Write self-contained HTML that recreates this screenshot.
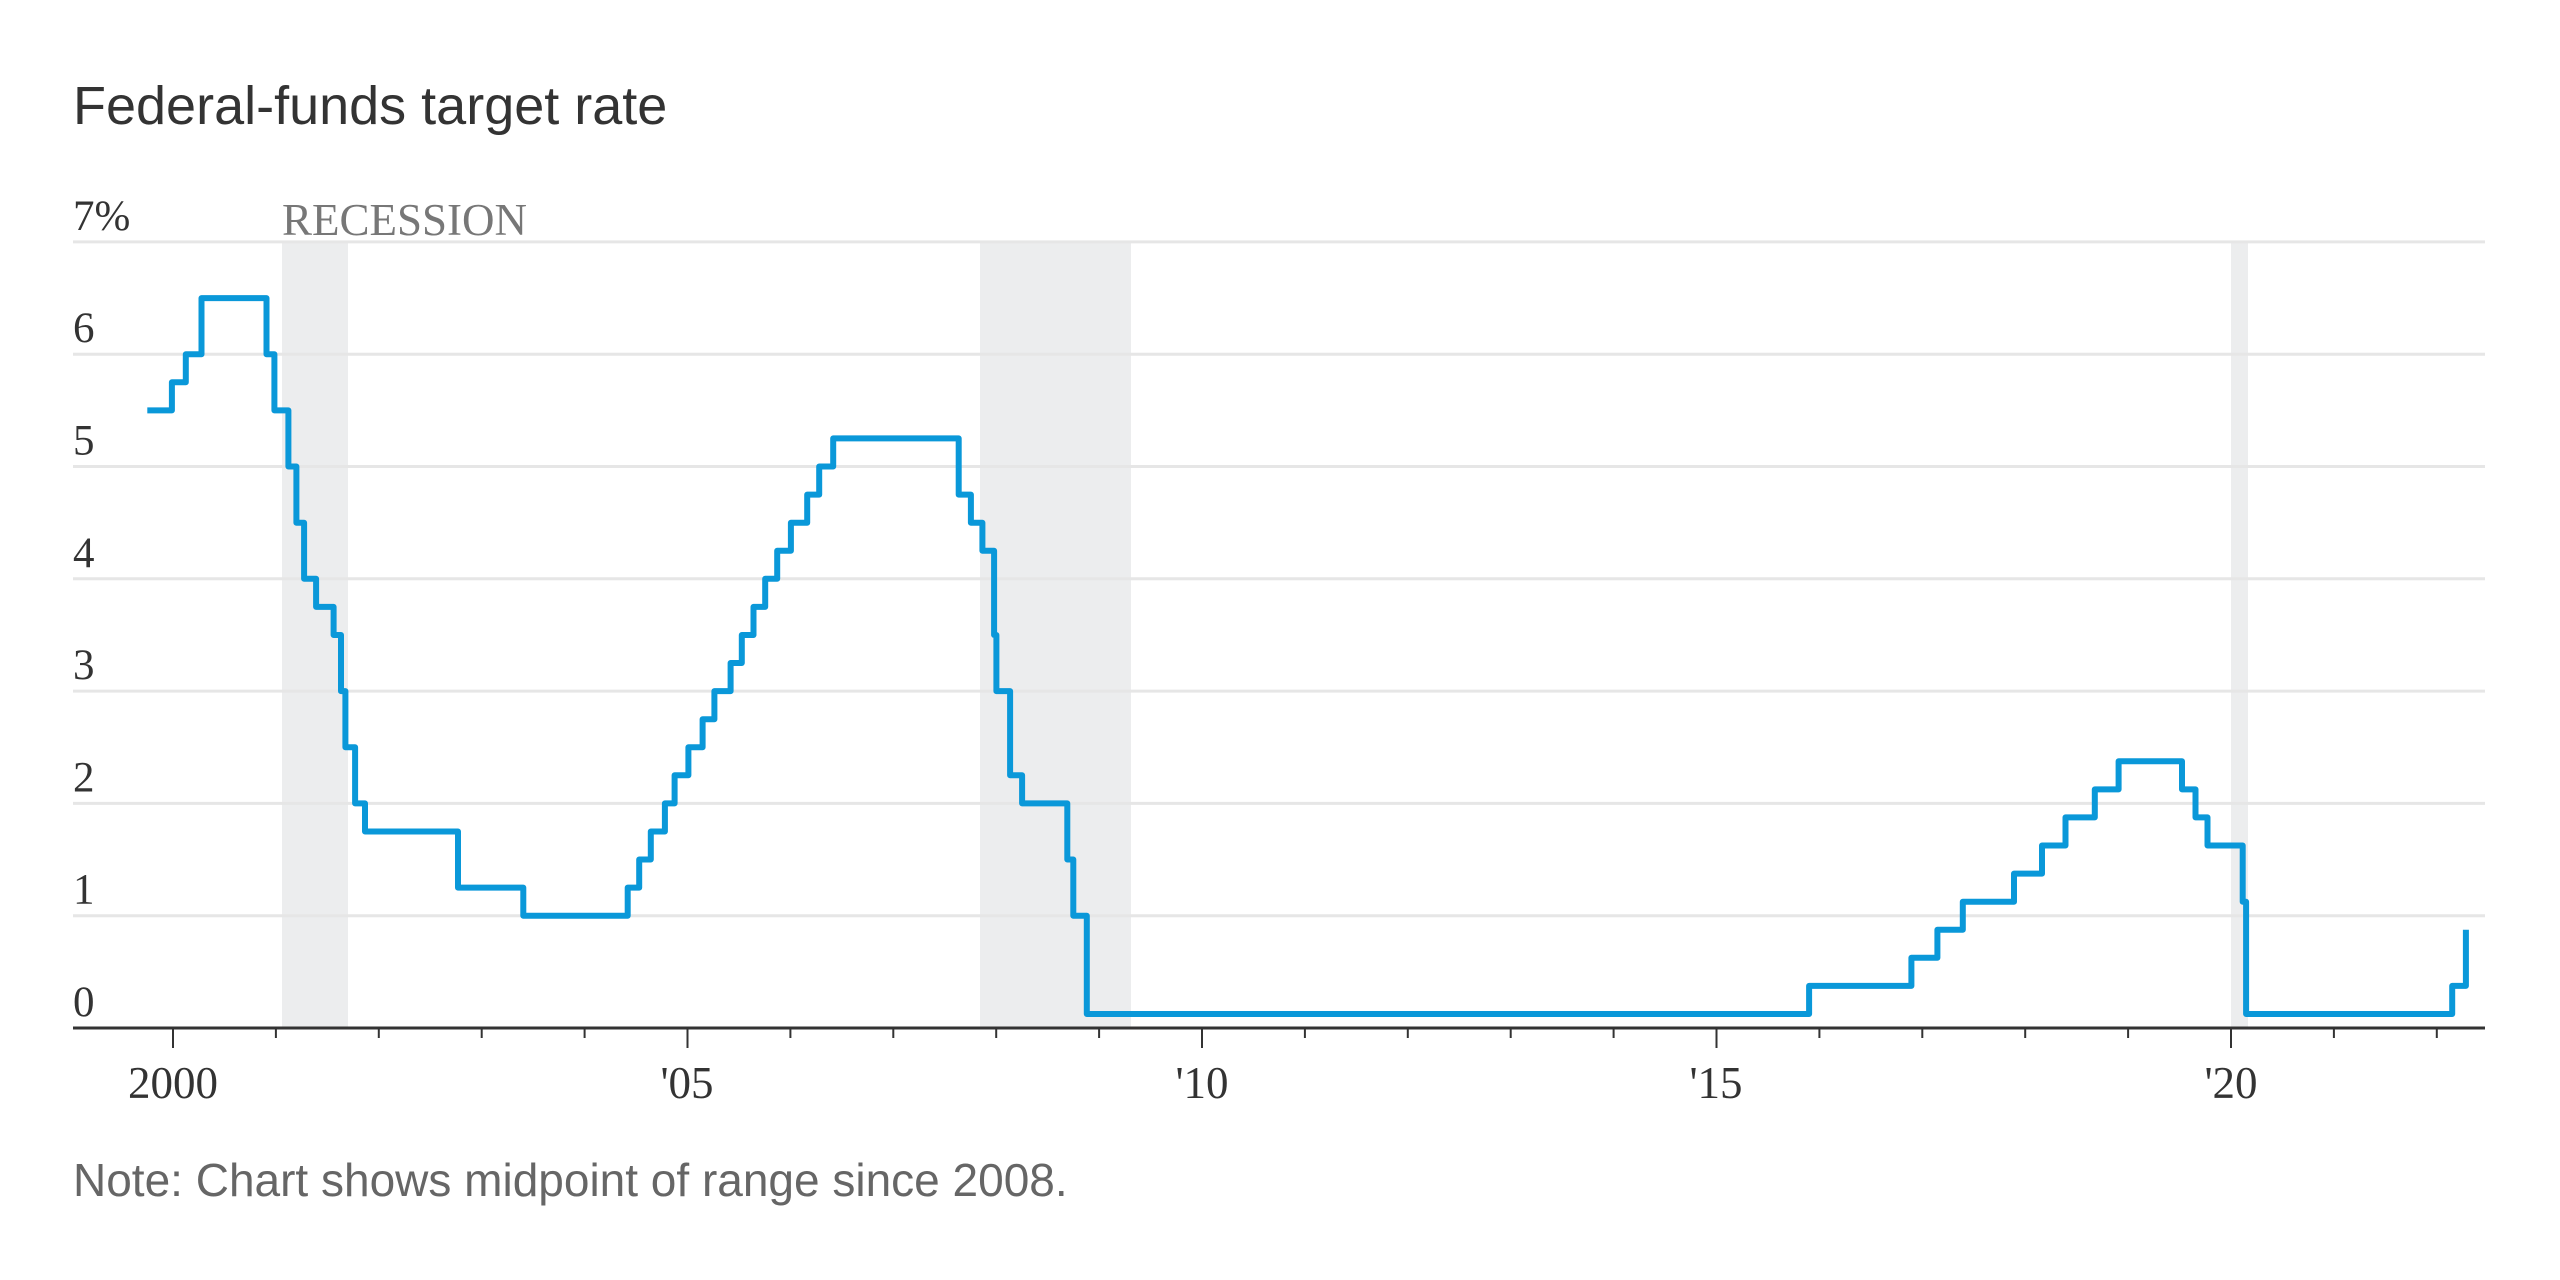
<!DOCTYPE html>
<html><head><meta charset="utf-8"><style>
html,body{margin:0;padding:0;background:#fff;}
svg{display:block;}
</style></head><body>
<svg id="c" width="2560" height="1280" xmlns="http://www.w3.org/2000/svg">
<text x="73" y="124" font-family="Liberation Sans, sans-serif" font-size="54" fill="#333">Federal-funds target rate</text>
<g fill="#ecedee">
<rect x="282" y="242" width="66" height="786"/>
<rect x="980" y="242" width="151" height="786"/>
<rect x="2231" y="242" width="17" height="786"/>
</g>
<g stroke="#e6e6e6" stroke-width="3" id="grid"></g>
<g font-family="Liberation Serif, serif" font-size="43" fill="#333" id="ylab"></g>
<text x="282" y="235" font-family="Liberation Serif, serif" font-size="45" fill="#777">RECESSION</text>
<path id="line" fill="none" stroke="#0a98d9" stroke-width="6" stroke-linejoin="round" d=""/>
<line x1="73" y1="1028" x2="2485" y2="1028" stroke="#333" stroke-width="3"/>
<g stroke="#333" stroke-width="2" id="ticks"></g>
<g font-family="Liberation Serif, serif" font-size="45" fill="#333" text-anchor="middle">
<text x="173" y="1098">2000</text>
<text x="687" y="1098">'05</text>
<text x="1202" y="1098">'10</text>
<text x="1716" y="1098">'15</text>
<text x="2231" y="1098">'20</text>
</g>
<text x="73" y="1196" font-family="Liberation Sans, sans-serif" font-size="46" fill="#666">Note: Chart shows midpoint of range since 2008.</text>
</svg>
<script>
var NS="http://www.w3.org/2000/svg";
function X(t){return 173+(t-2000)*102.9;}
function Y(v){return 1028-v*112.3;}
var g=document.getElementById('grid'),yl=document.getElementById('ylab'),tk=document.getElementById('ticks');
for(var v=1;v<=7;v++){var l=document.createElementNS(NS,'line');l.setAttribute('x1',73);l.setAttribute('x2',2485);l.setAttribute('y1',Y(v));l.setAttribute('y2',Y(v));g.appendChild(l);}
for(var v=0;v<=7;v++){var t=document.createElementNS(NS,'text');t.setAttribute('x',73);t.setAttribute('y',Y(v)-12);t.textContent=v==7?'7%':String(v);yl.appendChild(t);}
for(var y=0;y<=22;y++){var l=document.createElementNS(NS,'line');var x=X(2000+y);l.setAttribute('x1',x);l.setAttribute('x2',x);l.setAttribute('y1',1028);l.setAttribute('y2',y%5==0?1048:1038);tk.appendChild(l);}
function d(y,m,dd){return y+(m-1)/12+(dd-1)/365;}
var s=[[1999.75,5.5],[d(2000,2,2),5.75],[d(2000,3,21),6],[d(2000,5,16),6.5],[d(2001,1,3),6],[d(2001,1,31),5.5],[d(2001,3,20),5],[d(2001,4,18),4.5],[d(2001,5,15),4],[d(2001,6,27),3.75],[d(2001,8,21),3.5],[d(2001,9,17),3],[d(2001,10,2),2.5],[d(2001,11,6),2],[d(2001,12,11),1.75],[d(2002,11,6),1.25],[d(2003,6,25),1],[d(2004,6,30),1.25],[d(2004,8,10),1.5],[d(2004,9,21),1.75],[d(2004,11,10),2],[d(2004,12,14),2.25],[d(2005,2,2),2.5],[d(2005,3,22),2.75],[d(2005,5,3),3],[d(2005,6,30),3.25],[d(2005,8,9),3.5],[d(2005,9,20),3.75],[d(2005,11,1),4],[d(2005,12,13),4.25],[d(2006,1,31),4.5],[d(2006,3,28),4.75],[d(2006,5,10),5],[d(2006,6,29),5.25],[d(2007,9,18),4.75],[d(2007,10,31),4.5],[d(2007,12,11),4.25],[d(2008,1,22),3.5],[d(2008,1,30),3],[d(2008,3,18),2.25],[d(2008,4,30),2],[d(2008,10,8),1.5],[d(2008,10,29),1],[d(2008,12,16),0.125],[d(2015,12,16),0.375],[d(2016,12,14),0.625],[d(2017,3,15),0.875],[d(2017,6,14),1.125],[d(2017,12,13),1.375],[d(2018,3,21),1.625],[d(2018,6,13),1.875],[d(2018,9,26),2.125],[d(2018,12,19),2.375],[d(2019,7,31),2.125],[d(2019,9,18),1.875],[d(2019,10,30),1.625],[d(2020,3,3),1.125],[d(2020,3,15),0.125],[d(2022,3,16),0.375],[d(2022,5,4),0.875]];
var p='M'+X(s[0][0]).toFixed(1)+' '+Y(s[0][1]).toFixed(1);
for(var i=1;i<s.length;i++){var sh=s[i][0]<2001.5?-10:(s[i][0]>2015?-6:-8);var x=(X(s[i][0])+sh).toFixed(1);p+=' H'+x+' V'+Y(s[i][1]).toFixed(1);}
document.getElementById('line').setAttribute('d',p);
</script>
</body></html>
